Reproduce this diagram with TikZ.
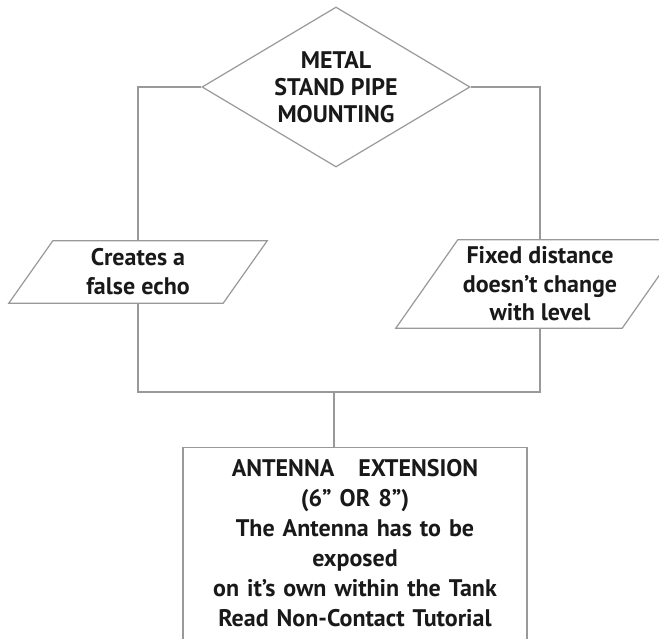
\documentclass[tikz,border=0pt]{standalone}
\usepackage{fontspec}
\setmainfont{PT Sans}
\usetikzlibrary{shapes.geometric, positioning}

% slanted outline round a plain node: #1 node, #2 half slant
\newcommand{\slantbox}[2]{%
  \draw[line] ([xshift=#2]#1.north west) -- ([xshift=#2]#1.north east)
    -- ([xshift=-#2]#1.south east) -- ([xshift=-#2]#1.south west) -- cycle;}

\begin{document}
\begin{tikzpicture}[
                x=1pt, y=-1pt,
                font=\bfseries\fontsize{24}{27}\selectfont,
                decision/.style={diamond, draw=black!40, line width=1.2pt, align=center, inner xsep=-30pt, inner ysep=-15pt, aspect=1.675, minimum width=268pt, minimum height=160pt, text=black!90},
                io/.style={rectangle, align=center, inner sep=0pt, text=black!90},
                result/.style={rectangle, draw=black!40, line width=1.2pt, align=center, text width=336pt, minimum width=344pt, inner xsep=4pt, inner ysep=12pt, text=black!90},
                line/.style={draw=black!40, line width=1.2pt}
            ]
                \clip (0,0) rectangle (659,639);
                \fill[white] (0,0) rectangle (659,639);

                % Place nodes
                \node [decision] (P_mount) at (336,87) {METAL\\STAND PIPE\\MOUNTING};
                \node [io, minimum width=214pt, minimum height=62pt, font=\bfseries\fontsize{24}{29}\selectfont] (P_echo) at (138,272) {Creates a\\false echo};
                \node [io, minimum width=226pt, minimum height=88pt, font=\bfseries\fontsize{24}{28.5}\selectfont] (P_fixed) at (540,284) {Fixed distance\\doesn't change\\with level};
                \coordinate (P_join) at (334,392);
                \node [result, anchor=north, font=\bfseries\fontsize{24}{30}\selectfont] (P_ext) at (355,447)
                    {ANTENNA\quad EXTENSION\\(6'' OR 8'')\\The Antenna has to be\\exposed\\on it's own within the Tank\\Read Non-Contact Tutorial\\[30pt]\mbox{}};

                \slantbox{P_echo}{22pt}
                \slantbox{P_fixed}{31pt}

                % Draw edges
                \path [line] (P_mount.west) -| (P_echo.north);
                \path [line] (P_mount.east) -| (P_fixed.north);
                \path [line] (P_echo.south) |- (P_join) -| (P_fixed.south);
                \path [line] (P_join) -- (P_join |- P_ext.north);

            \end{tikzpicture}
\end{document}
